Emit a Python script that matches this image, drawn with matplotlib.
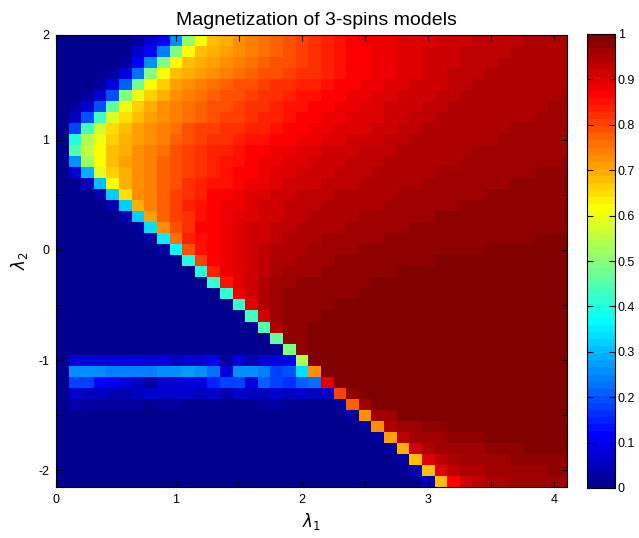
import matplotlib
matplotlib.use("Agg")
import numpy as np
import matplotlib.pyplot as plt
from matplotlib.colors import ListedColormap

# grid of the model parameters (cell centres)
lambda1 = np.arange(1, 42) / 10          # 0.1 ... 4.1
lambda2 = np.arange(19, -22, -1) / 10    # 1.9 ... -2.1 (top row first)

# magnetization in percent, one row per lambda2 value (top to bottom),
# one entry per lambda1 value (left to right)
magnetization_pct = [
    [0, 0, 0, 0, 0, 0, 2, 7, 12, 26, 51, 62, 68, 70, 73, 74, 76, 77, 79, 80, 82, 84, 85, 87, 88, 88, 88, 90, 90, 90, 91, 91, 91, 93, 93, 93, 93, 95, 95, 95, 95],
    [0, 0, 0, 0, 0, 0, 7, 12, 24, 49, 62, 68, 70, 71, 73, 74, 76, 77, 79, 80, 82, 84, 85, 87, 87, 88, 88, 90, 90, 91, 91, 91, 93, 93, 93, 93, 95, 95, 95, 95, 95],
    [0, 0, 0, 0, 0, 2, 12, 26, 49, 62, 68, 70, 71, 73, 74, 76, 77, 79, 79, 80, 82, 84, 85, 87, 87, 88, 88, 90, 90, 91, 91, 91, 93, 93, 93, 95, 95, 95, 95, 95, 95],
    [0, 0, 0, 0, 2, 9, 23, 49, 62, 68, 70, 71, 73, 74, 76, 77, 79, 79, 80, 82, 82, 84, 85, 87, 87, 88, 88, 90, 90, 91, 91, 93, 93, 93, 95, 95, 95, 95, 95, 95, 95],
    [0, 0, 0, 2, 9, 21, 48, 62, 66, 71, 73, 74, 76, 77, 79, 79, 80, 82, 82, 84, 84, 85, 87, 87, 88, 88, 90, 90, 91, 91, 91, 93, 93, 95, 95, 95, 95, 95, 95, 95, 95],
    [0, 0, 2, 7, 20, 49, 60, 66, 70, 73, 74, 76, 77, 79, 79, 80, 82, 82, 84, 85, 85, 87, 87, 88, 88, 90, 90, 91, 91, 91, 93, 93] + [95] * 8 + [96],
    [0, 2, 7, 20, 46, 60, 66, 70, 73, 74, 76, 77, 79, 79, 80, 82, 82, 84, 85, 85, 87, 87, 88, 88, 90, 90, 91, 91, 91, 93, 93] + [95] * 8 + [96] * 2,
    [0, 6, 20, 43, 59, 65, 68, 71, 73, 74, 76, 77, 79, 80, 80, 82, 84, 84, 85, 87, 87, 88, 88, 90, 90, 90, 91, 91, 93, 93] + [95] * 8 + [96] * 3,
    [0, 18, 43, 57, 65, 68, 71, 73, 74, 76, 79, 80, 80, 82, 82, 84, 84, 85, 87, 87, 88, 88, 90, 90, 90, 91, 91, 93, 93] + [95] * 7 + [96] * 5,
    [0, 40, 54, 60, 66, 70, 71, 73, 74, 77, 79, 80, 82, 82, 84, 85, 85, 87, 87, 88, 88, 90, 90, 91, 91, 91, 93, 93] + [95] * 7 + [96] * 6,
    [0, 45, 55, 62, 68, 70, 73, 74, 76, 79, 80, 82, 84, 84, 85, 87, 87, 88, 88, 90, 90, 91, 91, 91, 93, 93, 93] + [95] * 6 + [96] * 8,
    [0, 26, 52, 62, 68, 71, 73, 74, 77, 79, 80, 82, 84, 85, 85, 87, 88, 88, 90, 90, 91, 91, 91, 93, 93, 93] + [95] * 6 + [96] * 8 + [98],
    [0, 7, 29, 59, 66, 70, 73, 74, 77, 79, 80, 82, 84, 85, 87, 87, 88, 90, 90, 91, 91, 91, 93, 93, 93] + [95] * 5 + [96] * 8 + [98] * 3,
    [0, 0, 6, 30, 62, 70, 73, 74, 77, 79, 82, 84, 85, 85, 87, 88, 88, 90, 91, 91, 91, 93, 93, 93] + [95] * 5 + [96] * 7 + [98] * 5,
    [0, 0, 0, 4, 32, 65, 73, 74, 77, 80, 82, 84, 87, 87, 88, 90, 90, 91, 91, 93, 93, 93] + [95] * 5 + [96] * 7 + [98] * 7,
    [0, 0, 0, 0, 4, 32, 70, 74, 77, 80, 84, 85, 87, 88, 88, 90, 91, 91, 93, 93, 93] + [95] * 5 + [96] * 6 + [98] * 9,
    [0, 0, 0, 0, 0, 4, 32, 71, 77, 80, 82, 85, 87, 88, 90, 90, 91, 91, 93, 93] + [95] * 4 + [96] * 6 + [98] * 11,
    [0, 0, 0, 0, 0, 0, 2, 34, 73, 79, 82, 87, 87, 88, 90, 91, 91, 93, 93] + [95] * 4 + [96] * 5 + [98] * 13,
    [0, 0, 0, 0, 0, 0, 0, 2, 35, 76, 84, 85, 87, 88, 90, 91, 91, 93] + [95] * 3 + [96] * 5 + [98] * 12 + [99] * 3,
    [0, 0, 0, 0, 0, 0, 0, 0, 2, 37, 79, 85, 87, 88, 90, 91, 93] + [95] * 3 + [96] * 4 + [98] * 10 + [99] * 7,
    [0] * 10 + [40, 80, 87, 88, 90, 91, 93, 95, 95, 96, 96, 96] + [98] * 8 + [99] * 11,
    [0] * 11 + [40, 84, 88, 90, 91, 93, 95, 96, 96, 96] + [98] * 6 + [99] * 14,
    [0] * 12 + [41, 85, 90, 91, 95, 96, 96] + [98] * 6 + [99] * 16,
    [0] * 13 + [41, 88, 91, 95, 96] + [98] * 6 + [99] * 17,
    [0] * 14 + [41, 90, 95, 96] + [98] * 4 + [99] * 19,
    [0] * 15 + [43, 91, 96] + [98] * 3 + [99] * 20,
    [0] * 16 + [45, 95] + [98] * 2 + [99] * 21,
    [0] * 17 + [46] + [98] * 2 + [99] * 21,
    [0] * 18 + [49, 98] + [99] * 21,
    [0, 9, 9, 9, 9, 9, 9, 9, 9, 6, 7, 7, 10, 2, 9, 4, 9, 9, 10, 54] + [99] * 21,
    [0, 26, 26, 26, 24, 24, 24, 24, 26, 26, 27, 26, 23, 9, 26, 26, 24, 18, 20, 34, 73] + [99] * 20,
    [0, 18, 18, 12, 10, 9, 6, 2, 7, 7, 9, 9, 15, 18, 18, 9, 21, 18, 16, 21, 23, 90] + [99] * 19,
    [0, 7, 6, 6, 4, 4, 6, 7, 7, 7, 7, 6, 7, 4, 7, 6, 6, 7, 6, 7, 6, 6, 80, 98] + [99] * 17,
    [0, 4, 2, 2, 2, 2, 2, 0, 2, 2, 0, 0, 0, 0, 0, 0, 2, 2, 0, 0, 0, 0, 2, 77, 96] + [99] * 16,
    [0] * 23 + [2, 73, 96, 96] + [99] * 14,
    [0] * 24 + [2, 73, 95, 96, 96, 98, 98] + [99] * 10,
    [0] * 25 + [2, 71, 93, 96, 96, 96, 98, 98, 98] + [99] * 7,
    [0] * 26 + [2, 70, 91, 95, 96, 96, 96, 96, 98, 98, 98] + [99] * 4,
    [0] * 27 + [2, 68, 90, 93, 95, 96, 96, 96, 96] + [98] * 5,
    [0] * 28 + [4, 68, 90, 93, 95, 95, 96, 96, 96, 96, 96, 98, 98],
    [0] * 29 + [6, 68, 87, 91, 93, 95, 95, 96, 96, 96, 96, 96],
]

colorbar_ticks = [0, 0.1, 0.2, 0.3, 0.4, 0.5, 0.6, 0.7, 0.8, 0.9, 1]
colorbar_labels = ["0", "0.1", "0.2", "0.3", "0.4", "0.5", "0.6", "0.7", "0.8", "0.9", "1"]


def matlab_jet(m=64):
    # same construction as MATLAB's jet(m)
    n = int(np.ceil(m / 4))
    u = np.concatenate([np.arange(1, n + 1) / n, np.ones(n - 1), np.arange(n, 0, -1) / n])
    g = int(np.ceil(n / 2)) - int(m % 4 == 1) + np.arange(1, len(u) + 1)
    r = g + n
    b = g - n
    J = np.zeros((m, 3))
    for idx, col in ((r, 0), (g, 1), (b, 2)):
        keep = (idx >= 1) & (idx <= m)
        J[idx[keep] - 1, col] = u[keep]
    return J


M = np.array(magnetization_pct, dtype=float) / 100.0
assert M.shape == (len(lambda2), len(lambda1))

x_edges = np.append(lambda1 - 0.05, lambda1[-1] + 0.05)
y_edges = np.append(lambda2 + 0.05, lambda2[-1] - 0.05)

cmap = ListedColormap(matlab_jet(64))

plt.rcParams["font.family"] = ["Liberation Sans", "DejaVu Sans"]
plt.rcParams["mathtext.fontset"] = "dejavusans"

fig = plt.figure(figsize=(6.39, 5.38), dpi=100)
ax = fig.add_axes([56 / 639, 1 - 487 / 538, 511 / 639, 452.3 / 538])
mesh = ax.pcolormesh(x_edges, y_edges, M, cmap=cmap, vmin=0, vmax=1,
                     shading="flat", antialiased=False, linewidth=0)

ax.set_xlim(0.05, 4.1)
ax.set_ylim(-2.15, 1.95)
ax.set_xticks([0.05, 1, 1.5, 2, 2.5, 3, 3.5, 4])
ax.set_xticklabels(["0", "1", "", "2", "", "3", "", "4"])
ax.set_yticks([-2, -1.5, -1, -0.5, 0, 0.5, 1, 1.95])
ax.set_yticklabels(["-2", "", "-1", "", "0", "", "1", "2"])
ax.tick_params(direction="in", length=4, width=0.8, top=True, right=True,
               labelsize=9, pad=5)
for s in ax.spines.values():
    s.set_linewidth(0.8)

ax.set_title("Magnetization of 3-spins models", fontsize=14, pad=7, x=0.51)
ax.set_xlabel(r"$\lambda_1$", fontsize=12, labelpad=4)
ax.set_ylabel(r"$\lambda_2$", fontsize=12, labelpad=6)

cax = fig.add_axes([587 / 639, 1 - 488 / 538, 28 / 639, 454 / 538])
cb = fig.colorbar(mesh, cax=cax, ticks=colorbar_ticks)
cb.ax.set_yticklabels(colorbar_labels)
cb.ax.tick_params(direction="in", length=4, width=0.8, left=True, right=True,
                  labelsize=9, pad=2)
cb.outline.set_linewidth(0.8)

fig.savefig("out.png", dpi=100)
